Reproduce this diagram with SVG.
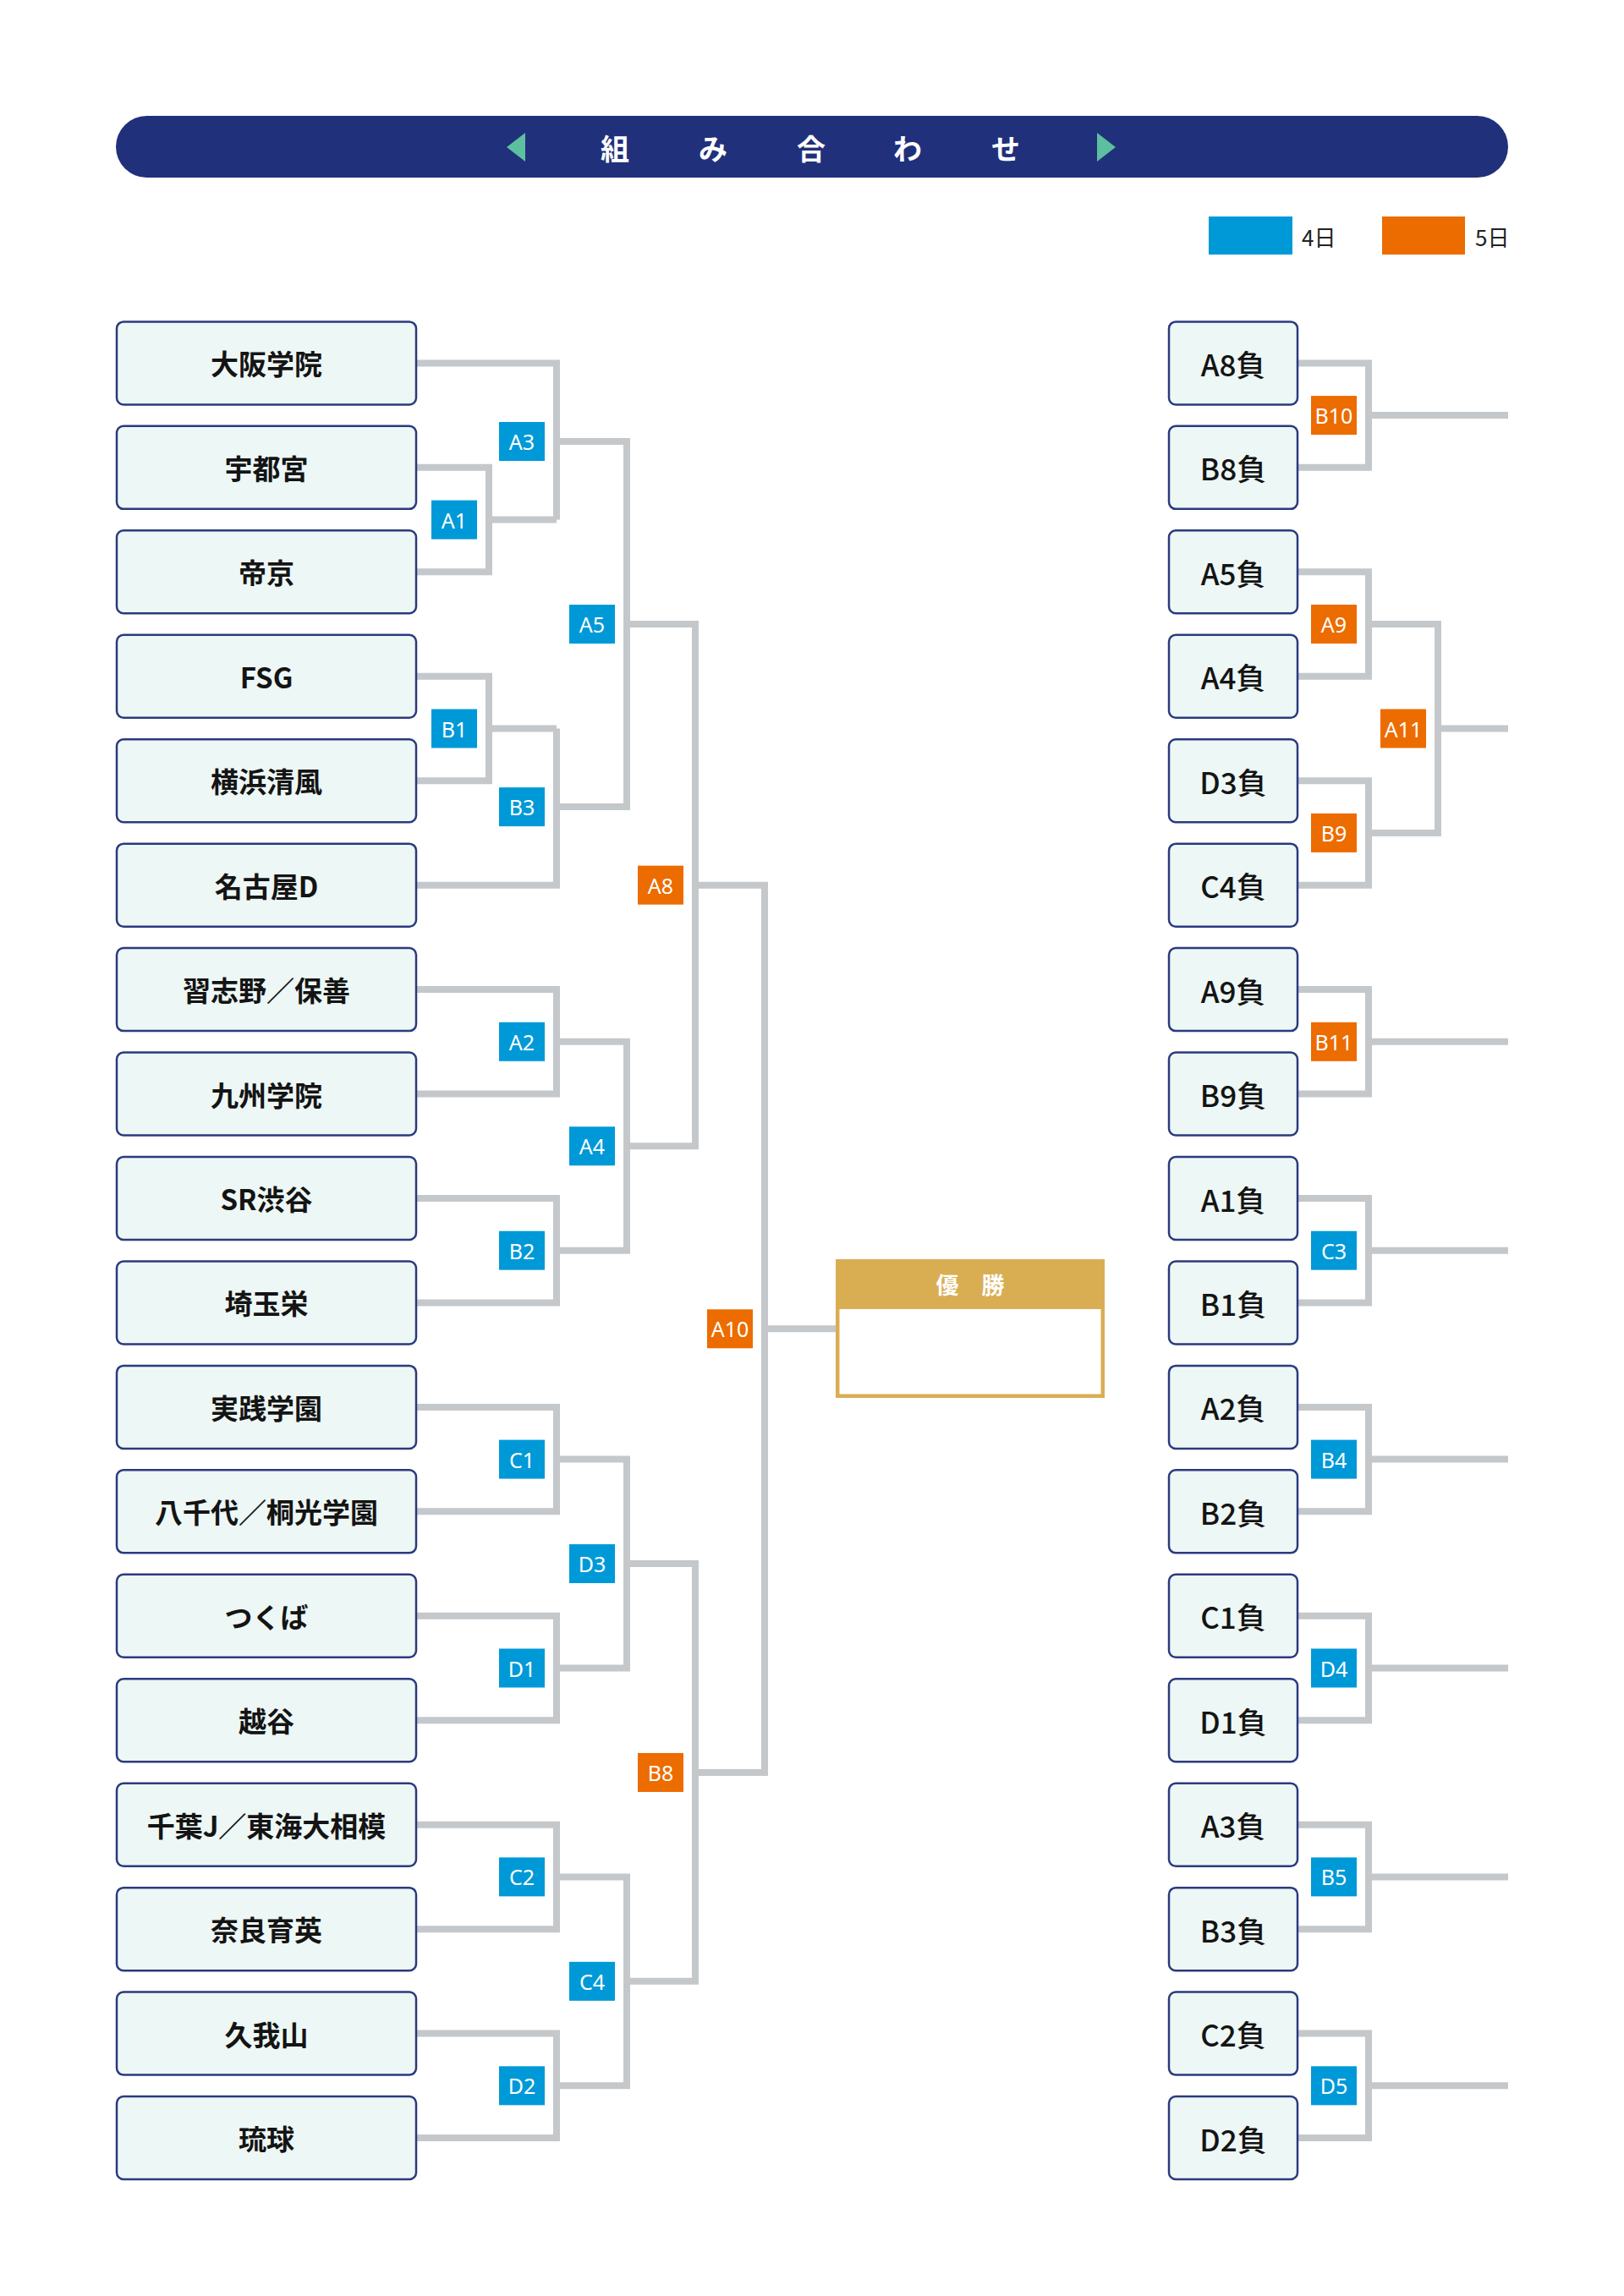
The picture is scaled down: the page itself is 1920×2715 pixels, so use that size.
<svg xmlns="http://www.w3.org/2000/svg" width="1920" height="2715" viewBox="0 0 1920 2715">
<style>
.team rect{fill:#edf7f5;stroke:#2b3a7e;stroke-width:2.5}
.team text{font-family:"Noto Sans CJK JP","Noto Sans",sans-serif;font-size:33px;font-weight:700;fill:#141414;text-anchor:middle;dominant-baseline:central}
.loser rect{fill:#edf7f5;stroke:#2b3a7e;stroke-width:2.5}
.loser text{font-family:"Noto Sans CJK JP","Noto Sans",sans-serif;font-size:35px;font-weight:500;fill:#141414;text-anchor:middle;dominant-baseline:central}
.lb text{font-family:"Noto Sans","Noto Sans CJK JP",sans-serif;font-size:25px;fill:#fff;text-anchor:middle;dominant-baseline:central}
.d4{fill:#0099d8}
.d5{fill:#ec6c00}
#connectors path{fill:none;stroke:#c4c8cb;stroke-width:8;stroke-linejoin:miter;stroke-linecap:butt}
</style>
<rect width="1920" height="2715" fill="#ffffff"/>
<g id="header">
<rect x="137" y="137" width="1646" height="73" rx="36.5" fill="#21307b"/>
<polygon points="599,174 621,157 621,191" fill="#5cbf9f"/>
<polygon points="1319,174 1297,157 1297,191" fill="#5cbf9f"/>
<text x="727 843 959 1073 1189" y="174" font-family="Noto Sans CJK JP,sans-serif" font-size="34" font-weight="700" fill="#ffffff" text-anchor="middle" dominant-baseline="central">組み合わせ</text>
</g>
<g id="legend">
<rect x="1429" y="256" width="99" height="45" class="d4"/>
<text x="1539" y="279" font-family="Noto Sans CJK JP,sans-serif" font-size="26" fill="#222" dominant-baseline="central">4日</text>
<rect x="1634" y="256" width="98" height="45" class="d5"/>
<text x="1744" y="279" font-family="Noto Sans CJK JP,sans-serif" font-size="26" fill="#222" dominant-baseline="central">5日</text>
</g>
<g id="connectors">
<path d="M492,552.85 H578 V676.3 H492 M578,614.6 H658"/>
<path d="M492,429.4 H658 V614.6"/>
<path d="M492,799.75 H578 V923.2 H492 M578,861.5 H658"/>
<path d="M492,1046.65 H658 V861.5"/>
<path d="M658,522 H741 V954.1 H658"/>
<path d="M492,1170.1 H658 V1293.55 H492"/>
<path d="M492,1417 H658 V1540.45 H492"/>
<path d="M658,1231.8 H741 V1478.7 H658"/>
<path d="M741,738.05 H822 V1355.25 H741"/>
<path d="M492,1663.9 H658 V1787.35 H492"/>
<path d="M492,1910.8 H658 V2034.25 H492"/>
<path d="M658,1725.6 H741 V1972.5 H658"/>
<path d="M492,2157.7 H658 V2281.15 H492"/>
<path d="M492,2404.6 H658 V2528.05 H492"/>
<path d="M658,2219.4 H741 V2466.3 H658"/>
<path d="M741,1849.05 H822 V2342.85 H741"/>
<path d="M822,1046.65 H904 V2095.95 H822 M904,1571.3 H990"/>
<path d="M1534,429.4 H1618 V552.85 H1534 M1618,491.1 H1783"/>
<path d="M1534,676.3 H1618 V799.75 H1534"/>
<path d="M1534,923.2 H1618 V1046.65 H1534"/>
<path d="M1618,738 H1700 V984.9 H1618 M1700,861.5 H1783"/>
<path d="M1534,1170.1 H1618 V1293.55 H1534 M1618,1231.8 H1783"/>
<path d="M1534,1417 H1618 V1540.45 H1534 M1618,1478.7 H1783"/>
<path d="M1534,1663.9 H1618 V1787.35 H1534 M1618,1725.6 H1783"/>
<path d="M1534,1910.8 H1618 V2034.25 H1534 M1618,1972.5 H1783"/>
<path d="M1534,2157.7 H1618 V2281.15 H1534 M1618,2219.4 H1783"/>
<path d="M1534,2404.6 H1618 V2528.05 H1534 M1618,2466.3 H1783"/>
</g>
<g id="teams-left">
<g id="t0" class="team"><rect x="138" y="380.4" width="354" height="98" rx="8"/><text x="315" y="429.4">大阪学院</text></g>
<g id="t1" class="team"><rect x="138" y="503.85" width="354" height="98" rx="8"/><text x="315" y="552.85">宇都宮</text></g>
<g id="t2" class="team"><rect x="138" y="627.3" width="354" height="98" rx="8"/><text x="315" y="676.3">帝京</text></g>
<g id="t3" class="team"><rect x="138" y="750.75" width="354" height="98" rx="8"/><text x="315" y="799.75">FSG</text></g>
<g id="t4" class="team"><rect x="138" y="874.2" width="354" height="98" rx="8"/><text x="315" y="923.2">横浜清風</text></g>
<g id="t5" class="team"><rect x="138" y="997.65" width="354" height="98" rx="8"/><text x="315" y="1046.65">名古屋D</text></g>
<g id="t6" class="team"><rect x="138" y="1121.1" width="354" height="98" rx="8"/><text x="315" y="1170.1">習志野／保善</text></g>
<g id="t7" class="team"><rect x="138" y="1244.55" width="354" height="98" rx="8"/><text x="315" y="1293.55">九州学院</text></g>
<g id="t8" class="team"><rect x="138" y="1368" width="354" height="98" rx="8"/><text x="315" y="1417">SR渋谷</text></g>
<g id="t9" class="team"><rect x="138" y="1491.45" width="354" height="98" rx="8"/><text x="315" y="1540.45">埼玉栄</text></g>
<g id="t10" class="team"><rect x="138" y="1614.9" width="354" height="98" rx="8"/><text x="315" y="1663.9">実践学園</text></g>
<g id="t11" class="team"><rect x="138" y="1738.35" width="354" height="98" rx="8"/><text x="315" y="1787.35">八千代／桐光学園</text></g>
<g id="t12" class="team"><rect x="138" y="1861.8" width="354" height="98" rx="8"/><text x="315" y="1910.8">つくば</text></g>
<g id="t13" class="team"><rect x="138" y="1985.25" width="354" height="98" rx="8"/><text x="315" y="2034.25">越谷</text></g>
<g id="t14" class="team"><rect x="138" y="2108.7" width="354" height="98" rx="8"/><text x="315" y="2157.7">千葉J／東海大相模</text></g>
<g id="t15" class="team"><rect x="138" y="2232.15" width="354" height="98" rx="8"/><text x="315" y="2281.15">奈良育英</text></g>
<g id="t16" class="team"><rect x="138" y="2355.6" width="354" height="98" rx="8"/><text x="315" y="2404.6">久我山</text></g>
<g id="t17" class="team"><rect x="138" y="2479.05" width="354" height="98" rx="8"/><text x="315" y="2528.05">琉球</text></g>
</g>
<g id="teams-right">
<g id="r0" class="loser"><rect x="1382" y="380.4" width="152" height="98" rx="8"/><text x="1458" y="429.4">A8負</text></g>
<g id="r1" class="loser"><rect x="1382" y="503.85" width="152" height="98" rx="8"/><text x="1458" y="552.85">B8負</text></g>
<g id="r2" class="loser"><rect x="1382" y="627.3" width="152" height="98" rx="8"/><text x="1458" y="676.3">A5負</text></g>
<g id="r3" class="loser"><rect x="1382" y="750.75" width="152" height="98" rx="8"/><text x="1458" y="799.75">A4負</text></g>
<g id="r4" class="loser"><rect x="1382" y="874.2" width="152" height="98" rx="8"/><text x="1458" y="923.2">D3負</text></g>
<g id="r5" class="loser"><rect x="1382" y="997.65" width="152" height="98" rx="8"/><text x="1458" y="1046.65">C4負</text></g>
<g id="r6" class="loser"><rect x="1382" y="1121.1" width="152" height="98" rx="8"/><text x="1458" y="1170.1">A9負</text></g>
<g id="r7" class="loser"><rect x="1382" y="1244.55" width="152" height="98" rx="8"/><text x="1458" y="1293.55">B9負</text></g>
<g id="r8" class="loser"><rect x="1382" y="1368" width="152" height="98" rx="8"/><text x="1458" y="1417">A1負</text></g>
<g id="r9" class="loser"><rect x="1382" y="1491.45" width="152" height="98" rx="8"/><text x="1458" y="1540.45">B1負</text></g>
<g id="r10" class="loser"><rect x="1382" y="1614.9" width="152" height="98" rx="8"/><text x="1458" y="1663.9">A2負</text></g>
<g id="r11" class="loser"><rect x="1382" y="1738.35" width="152" height="98" rx="8"/><text x="1458" y="1787.35">B2負</text></g>
<g id="r12" class="loser"><rect x="1382" y="1861.8" width="152" height="98" rx="8"/><text x="1458" y="1910.8">C1負</text></g>
<g id="r13" class="loser"><rect x="1382" y="1985.25" width="152" height="98" rx="8"/><text x="1458" y="2034.25">D1負</text></g>
<g id="r14" class="loser"><rect x="1382" y="2108.7" width="152" height="98" rx="8"/><text x="1458" y="2157.7">A3負</text></g>
<g id="r15" class="loser"><rect x="1382" y="2232.15" width="152" height="98" rx="8"/><text x="1458" y="2281.15">B3負</text></g>
<g id="r16" class="loser"><rect x="1382" y="2355.6" width="152" height="98" rx="8"/><text x="1458" y="2404.6">C2負</text></g>
<g id="r17" class="loser"><rect x="1382" y="2479.05" width="152" height="98" rx="8"/><text x="1458" y="2528.05">D2負</text></g>
</g>
<g id="labels" class="lb">
<g id="m-A1"><rect class="d4" x="510" y="591.6" width="54" height="46"/><text x="537" y="614.6">A1</text></g>
<g id="m-A3"><rect class="d4" x="590" y="499" width="54" height="46"/><text x="617" y="522">A3</text></g>
<g id="m-B1"><rect class="d4" x="510" y="838.5" width="54" height="46"/><text x="537" y="861.5">B1</text></g>
<g id="m-B3"><rect class="d4" x="590" y="931.1" width="54" height="46"/><text x="617" y="954.1">B3</text></g>
<g id="m-A5"><rect class="d4" x="673" y="715.05" width="54" height="46"/><text x="700" y="738.05">A5</text></g>
<g id="m-A2"><rect class="d4" x="590" y="1208.8" width="54" height="46"/><text x="617" y="1231.8">A2</text></g>
<g id="m-B2"><rect class="d4" x="590" y="1455.7" width="54" height="46"/><text x="617" y="1478.7">B2</text></g>
<g id="m-A4"><rect class="d4" x="673" y="1332.25" width="54" height="46"/><text x="700" y="1355.25">A4</text></g>
<g id="m-A8"><rect class="d5" x="754" y="1023.65" width="54" height="46"/><text x="781" y="1046.65">A8</text></g>
<g id="m-C1"><rect class="d4" x="590" y="1702.6" width="54" height="46"/><text x="617" y="1725.6">C1</text></g>
<g id="m-D1"><rect class="d4" x="590" y="1949.5" width="54" height="46"/><text x="617" y="1972.5">D1</text></g>
<g id="m-D3"><rect class="d4" x="673" y="1826.05" width="54" height="46"/><text x="700" y="1849.05">D3</text></g>
<g id="m-C2"><rect class="d4" x="590" y="2196.4" width="54" height="46"/><text x="617" y="2219.4">C2</text></g>
<g id="m-D2"><rect class="d4" x="590" y="2443.3" width="54" height="46"/><text x="617" y="2466.3">D2</text></g>
<g id="m-C4"><rect class="d4" x="673" y="2319.85" width="54" height="46"/><text x="700" y="2342.85">C4</text></g>
<g id="m-B8"><rect class="d5" x="754" y="2072.95" width="54" height="46"/><text x="781" y="2095.95">B8</text></g>
<g id="m-A10"><rect class="d5" x="836" y="1548.3" width="54" height="46"/><text x="863" y="1571.3">A10</text></g>
<g id="m-B10"><rect class="d5" x="1550" y="468.1" width="54" height="46"/><text x="1577" y="491.1">B10</text></g>
<g id="m-A9"><rect class="d5" x="1550" y="715" width="54" height="46"/><text x="1577" y="738">A9</text></g>
<g id="m-B9"><rect class="d5" x="1550" y="961.9" width="54" height="46"/><text x="1577" y="984.9">B9</text></g>
<g id="m-A11"><rect class="d5" x="1632" y="838.5" width="54" height="46"/><text x="1659" y="861.5">A11</text></g>
<g id="m-B11"><rect class="d5" x="1550" y="1208.8" width="54" height="46"/><text x="1577" y="1231.8">B11</text></g>
<g id="m-C3"><rect class="d4" x="1550" y="1455.7" width="54" height="46"/><text x="1577" y="1478.7">C3</text></g>
<g id="m-B4"><rect class="d4" x="1550" y="1702.6" width="54" height="46"/><text x="1577" y="1725.6">B4</text></g>
<g id="m-D4"><rect class="d4" x="1550" y="1949.5" width="54" height="46"/><text x="1577" y="1972.5">D4</text></g>
<g id="m-B5"><rect class="d4" x="1550" y="2196.4" width="54" height="46"/><text x="1577" y="2219.4">B5</text></g>
<g id="m-D5"><rect class="d4" x="1550" y="2443.3" width="54" height="46"/><text x="1577" y="2466.3">D5</text></g>
</g>
<g id="champion">
<rect x="988" y="1489" width="318" height="164" fill="#d9ae53"/>
<rect x="992.5" y="1548" width="309" height="100.5" fill="#ffffff"/>
<text x="1147" y="1518" font-family="Noto Sans CJK JP,sans-serif" font-size="27" font-weight="700" fill="#ffffff" text-anchor="middle" dominant-baseline="central">優　勝</text>
</g>
</svg>
